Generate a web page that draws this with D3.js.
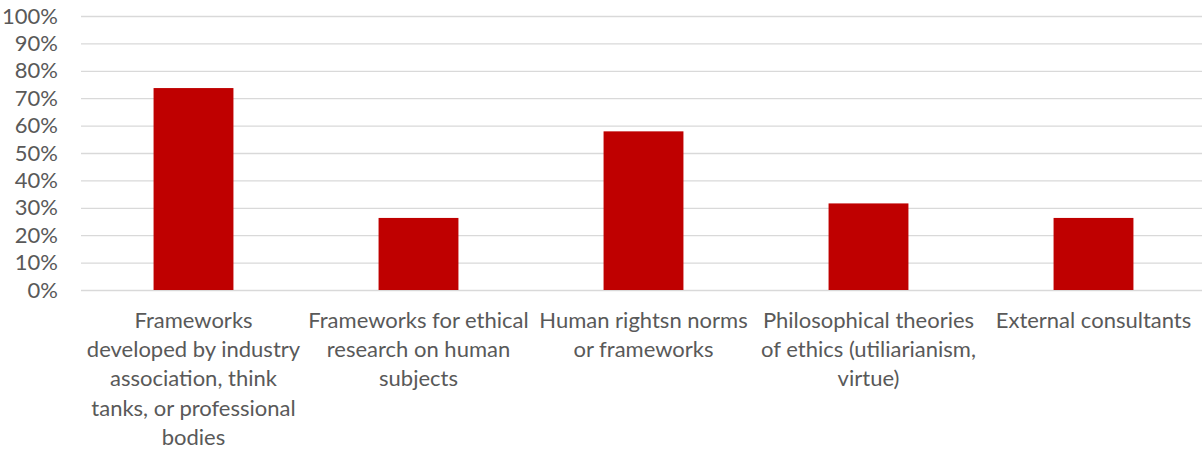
<!DOCTYPE html>
<html>
<head>
<meta charset="utf-8">
<script src="https://cdn.jsdelivr.net/npm/d3@7"></script>
<style>
  html, body { margin: 0; padding: 0; background: #fff; }
  svg { display: block; }
  text { font-family: Lato, "Liberation Sans", sans-serif; fill: #595959; }
</style>
</head>
<body>
<svg id="chart" width="1202" height="451"></svg>
<script>
// Share of respondents citing each source of ethical guidance
const categories = [
  "Frameworks developed by industry association, think tanks, or professional bodies",
  "Frameworks for ethical research on human subjects",
  "Human rightsn norms or frameworks",
  "Philosophical theories of ethics (utiliarianism, virtue)",
  "External consultants"
];
const values = [0.737, 0.263, 0.579, 0.316, 0.263];
// Wrapped category labels as shown under each bar
const categoryLines = [
  ["Frameworks", "developed by industry", "association, think", "tanks, or professional", "bodies"],
  ["Frameworks for ethical", "research on human", "subjects"],
  ["Human rightsn norms", "or frameworks"],
  ["Philosophical theories", "of ethics (utiliarianism,", "virtue)"],
  ["External consultants"]
];
const yTicks = [0, 0.1, 0.2, 0.3, 0.4, 0.5, 0.6, 0.7, 0.8, 0.9, 1.0];

const margin = { left: 81, top: 16, right: -4, bottom: 161 };
const W = 1202, H = 451;
const svg = d3.select("#chart");

const x = d3.scaleBand()
  .domain(categories)
  .range([margin.left, W - margin.right])
  .paddingInner(0.645)
  .paddingOuter(0.3225);

const y = d3.scaleLinear()
  .domain([0, 1])
  .range([H - margin.bottom, margin.top]);

const fontSize = 22;

// Horizontal gridlines
const yAxis = d3.axisLeft(y)
  .tickValues(yTicks)
  .tickFormat(d3.format(".0%"))
  .tickSize(-(W - margin.right - margin.left))
  .tickPadding(23);

const gy = svg.append("g")
  .attr("transform", `translate(${margin.left},0)`)
  .call(yAxis);
gy.select(".domain").remove();
gy.selectAll(".tick line").attr("stroke", "#d9d9d9").attr("stroke-width", 1.3);
gy.selectAll(".tick text")
  .attr("font-size", fontSize)
  .attr("fill", "#595959")
  .style("font-family", "Lato, sans-serif");

// Bars
svg.append("g")
  .selectAll("rect")
  .data(values)
  .join("rect")
  .attr("x", (d, i) => x(categories[i]))
  .attr("width", x.bandwidth())
  .attr("y", d => y(d))
  .attr("height", d => y(0) - y(d))
  .attr("fill", "#bf0000");

// Category labels
const lineHeight = 29.2;
const labels = svg.append("g")
  .selectAll("text")
  .data(categoryLines)
  .join("text")
  .attr("text-anchor", "middle")
  .attr("font-size", fontSize)
  .attr("x", (d, i) => x(categories[i]) + x.bandwidth() / 2)
  .attr("y", 328);
labels.selectAll("tspan")
  .data(d => d)
  .join("tspan")
  .attr("x", function () { return d3.select(this.parentNode).attr("x"); })
  .attr("dy", (d, i) => i === 0 ? 0 : lineHeight)
  .text(d => d);
</script>
</body>
</html>
